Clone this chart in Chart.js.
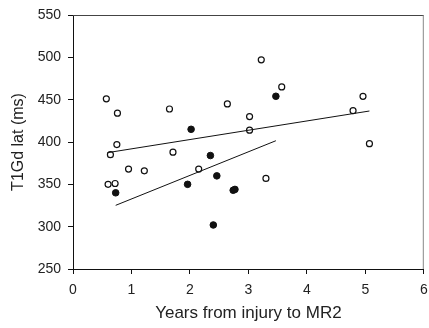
<!DOCTYPE html>
<html>
<head>
<meta charset="utf-8">
<script src="https://cdn.jsdelivr.net/npm/chart.js@4"></script>
<style>
  html, body { margin: 0; padding: 0; background: #fff; }
  #wrap { width: 429px; height: 328px; }
</style>
</head>
<body>
<div id="wrap"><canvas id="chart" width="429" height="328"></canvas></div>
<script>
// open circles
const openX = [0.57, 0.76, 1.65, 2.64, 3.02, 3.02, 0.75, 3.22, 3.57, 4.96, 4.79, 5.07, 3.30, 0.64, 1.71, 0.95, 1.22, 2.15, 0.60, 0.72];
const openY = [451, 434, 439, 445, 430, 414, 397, 497, 465, 454, 437, 398, 357, 385, 388, 368, 366, 368, 350, 351];
// filled circles
const filledX = [2.02, 3.47, 2.35, 2.46, 1.96, 0.73, 2.74, 2.77, 2.40];
const filledY = [415, 454, 384, 360, 350, 340, 343, 344, 302];
// fitted lines (endpoints)
const openFitX = [0.59, 5.07];
const openFitY = [387.4, 436.6];
const filledFitX = [0.73, 3.47];
const filledFitY = [325.2, 401.5];

const xTicks = [0, 1, 2, 3, 4, 5, 6];
const yTicks = [250, 300, 350, 400, 450, 500, 550];

const toPoints = (xs, ys) => xs.map((x, i) => ({x: x, y: ys[i]}));

// thin frame on top and right of the plot area
const framePlugin = {
    id: 'frame',
    afterDraw(chart) {
        const {ctx, chartArea: a} = chart;
        ctx.save();
        ctx.lineWidth = 1;
        ctx.strokeStyle = '#444';
        ctx.beginPath();
        ctx.moveTo(a.left, a.top + 0.5);
        ctx.lineTo(a.right, a.top + 0.5);
        ctx.stroke();
        ctx.strokeStyle = '#888';
        ctx.beginPath();
        ctx.moveTo(a.right - 0.5, a.top);
        ctx.lineTo(a.right - 0.5, a.bottom);
        ctx.stroke();
        ctx.restore();
    }
};

const family = '"Liberation Sans", Arial, sans-serif';
const tickFont = {family: family, size: 14};

new Chart(document.getElementById('chart'), {
    type: 'scatter',
    data: {
        datasets: [{
            data: toPoints(openFitX, openFitY),
            showLine: true,
            borderColor: '#111',
            borderWidth: 1,
            pointRadius: 0
        }, {
            data: toPoints(filledFitX, filledFitY),
            showLine: true,
            borderColor: '#111',
            borderWidth: 1,
            pointRadius: 0
        }, {
            data: toPoints(openX, openY),
            pointRadius: 3,
            pointBorderWidth: 1.2,
            pointBorderColor: '#111',
            pointBackgroundColor: '#fff'
        }, {
            data: toPoints(filledX, filledY),
            pointRadius: 3.3,
            pointBorderWidth: 1,
            pointBorderColor: '#111',
            pointBackgroundColor: '#111'
        }]
    },
    options: {
        responsive: false,
        animation: false,
        layout: {padding: {top: 15, right: 3, left: 0, bottom: 0}},
        plugins: {legend: {display: false}, tooltip: {enabled: false}},
        scales: {
            x: {
                type: 'linear',
                min: 0,
                max: 6,
                afterBuildTicks: (s) => { s.ticks = xTicks.map(v => ({value: v})); },
                afterFit: (s) => {
                    s.height = 59;
                    s.paddingLeft = 0;
                    s.paddingRight = 0;
                },
                grid: {drawOnChartArea: false, drawTicks: true, tickLength: 5, color: '#111'},
                border: {display: true, color: '#111', width: 1},
                ticks: {color: '#222', font: tickFont, padding: 8, maxRotation: 0},
                title: {display: true, text: 'Years from injury to MR2', color: '#222',
                        font: {family: family, size: 17}, padding: {top: 0}}
            },
            y: {
                min: 250,
                max: 550,
                afterBuildTicks: (s) => { s.ticks = yTicks.map(v => ({value: v})); },
                afterFit: (s) => {
                    s.width = 73;
                    s.paddingTop = 0;
                    s.paddingBottom = 0;
                },
                grid: {drawOnChartArea: false, drawTicks: true, tickLength: 5, color: '#111'},
                border: {display: true, color: '#111', width: 1},
                ticks: {color: '#222', font: tickFont, padding: 7},
                title: {display: true, text: 'T1Gd lat (ms)', color: '#222',
                        font: {family: family, size: 16}, padding: {top: 9, bottom: 0}}
            }
        }
    },
    plugins: [framePlugin]
});
</script>
</body>
</html>
